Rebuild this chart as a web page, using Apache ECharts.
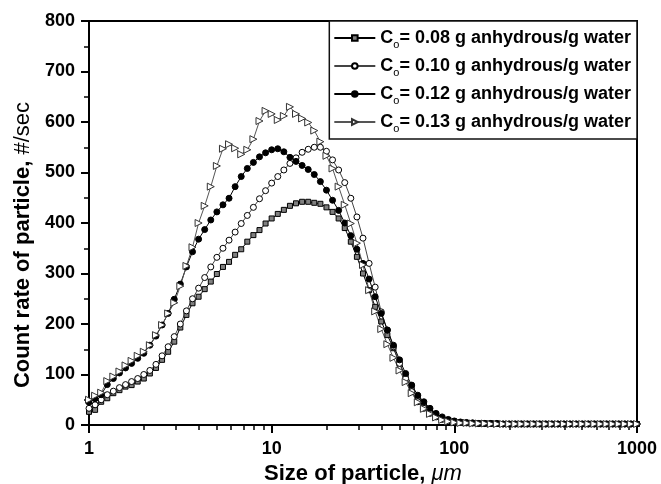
<!DOCTYPE html>
<html><head><meta charset="utf-8">
<script src="https://cdn.jsdelivr.net/npm/echarts@6/dist/echarts.min.js"></script>
<style>html,body{margin:0;padding:0;background:#fff}#c{width:661px;height:484px}</style>
</head><body><div id="c"></div>
<script>
// particle size channels (um)
const sizes = [1,1.080,1.166,1.259,1.359,1.468,1.585,1.711,1.848,1.995,
 2.154,2.326,2.512,2.712,2.929,3.162,3.415,3.687,3.981,4.299,
 4.642,5.012,5.412,5.843,6.310,6.813,7.356,7.943,8.577,9.261,
 10,10.80,11.66,12.59,13.59,14.68,15.85,17.11,18.48,19.95,
 21.54,23.26,25.12,27.12,29.29,31.62,34.15,36.87,39.81,42.99,
 46.42,50.12,54.12,58.43,63.10,68.13,73.56,79.43,85.77,92.61,
 100,108.0,116.6,125.9,135.9,146.8,158.5,171.1,184.8,199.5,
 215.4,232.6,251.2,271.2,292.9,316.2,341.5,368.7,398.1,429.9,
 464.2,501.2,541.2,584.3,631.0,681.3,735.6,794.3,857.7,926.1,1000];
const c008 = [26,30,46,53,63,69,76,79,86,92,
 102,113,129,145,165,193,218,241,254,269,
 284,299,313,323,337,348,363,376,386,399,
 409,418,426,434,439,442,442,440,438,431,
 422,409,390,363,333,300,267,234,205,178,
 152,122,96,73,53,38,26,20,14,10,
 7,5,4,4,3,3,3,2,2,2,2,2,2,2,2,2,2,2,2,2,2,2,2,2,2,2,2,2,2,2,2];
const c010 = [33,40,50,60,67,74,80,86,92,100,
 108,120,137,155,175,200,226,250,271,292,
 313,332,350,366,382,399,415,431,448,464,
 479,492,505,518,529,540,546,550,550,542,
 525,505,480,449,412,370,320,273,224,188,
 155,122,92,66,46,33,23,16,11,8,
 6,5,4,4,3,3,3,3,2,2,2,2,2,2,2,2,2,2,2,2,2,2,2,2,2,2,2,2,2,2,2];
const c012 = [45,52,60,80,92,103,113,122,132,142,
 158,176,198,221,249,279,313,343,368,387,
 406,422,436,449,472,492,508,520,531,539,
 545,547,541,530,522,514,506,496,482,465,
 445,425,400,375,348,320,289,254,221,188,
 158,129,102,79,59,46,33,23,16,11,
 8,6,5,4,3,3,3,3,2,2,2,2,2,2,2,2,2,2,2,2,2,2,2,2,2,2,2,2,2,2,2];
const c013 = [50,58,64,87,96,106,118,127,137,145,
 158,178,198,221,242,275,315,352,400,434,
 472,513,547,556,548,536,545,566,602,622,
 616,604,612,630,616,607,599,583,561,533,
 508,472,436,399,360,317,267,225,190,160,
 133,108,85,63,45,32,22,15,10,7,
 5,4,4,3,3,3,2,2,2,2,2,2,2,2,2,2,2,2,2,2,2,2,2,2,2,2,2,2,2,2,2];
const seriesNames = ['0.08','0.10','0.12','0.13'];
const xMajorTicks = [1,10,100,1000];
const xMinorTicks = [2,3,4,5,6,7,8,9,20,30,40,50,60,70,80,90,200,300,400,500,600,700,800,900];

const FONT = "'Liberation Sans', Arial, sans-serif";
const chart = echarts.init(document.getElementById('c'), null, {renderer:'canvas'});
const pairs = ys => sizes.map((x,i)=>[x, ys[i]]);
const txt = {fontFamily:FONT, color:'#000'};

const styles = [
  {symbol:'rect', symbolSize:5, item:{color:'#808080', borderColor:'#000', borderWidth:1}, line:'#000'},
  {symbol:'circle', symbolSize:6, item:{color:'#fff', borderColor:'#000', borderWidth:1}, line:'#444'},
  {symbol:'circle', symbolSize:6, item:{color:'#000', borderColor:'#000', borderWidth:1}, line:'#000'},
  {symbol:'triangle', symbolSize:7, rotate:-90, item:{color:'#fff', borderColor:'#333', borderWidth:1}, line:'#555'}
];
const data = [c008, c010, c012, c013];

const option = {
  animation:false,
  backgroundColor:'#fff',
  grid:{left:89,right:24,top:21,bottom:59,containLabel:false,outerBoundsMode:'none',
        show:true,borderColor:'#000',borderWidth:2,backgroundColor:'transparent'},
  xAxis:[{
    type:'log', logBase:10, min:1, max:1000, position:'bottom',
    axisLine:{show:true, onZero:false, lineStyle:{color:'#000', width:2}},
    axisTick:{show:true, length:8, customValues:xMajorTicks, lineStyle:{color:'#000', width:2}},
    axisLabel:{customValues:xMajorTicks, margin:15, fontSize:18, fontWeight:'bold', ...txt, formatter:v=>String(Math.round(v))},
    splitLine:{show:false},
    name:'{b|Size of particle, }{i|μm}', nameLocation:'middle', nameGap:33,
    nameTextStyle:{rich:{b:{fontSize:22, fontWeight:'bold', ...txt}, i:{fontSize:22, fontStyle:'italic', ...txt}}}
  },{
    type:'log', logBase:10, min:1, max:1000, position:'bottom', offset:0,
    axisLine:{show:false},
    axisTick:{show:true, length:5, customValues:xMinorTicks, lineStyle:{color:'#000', width:1.5}},
    axisLabel:{show:false}, splitLine:{show:false}
  }],
  yAxis:{
    type:'value', min:0, max:800, interval:100,
    axisLine:{show:true, onZero:false, lineStyle:{color:'#000', width:2}},
    axisTick:{show:true, length:8, lineStyle:{color:'#000', width:2}},
    minorTick:{show:true, splitNumber:2, length:5, lineStyle:{color:'#000', width:1.5}},
    axisLabel:{margin:14, fontSize:18, fontWeight:'bold', ...txt},
    splitLine:{show:false},
    name:'{b|Count rate of particle, }{n|#/sec}', nameLocation:'middle', nameGap:53,
    nameTextStyle:{padding:[0,44,0,0], rich:{b:{fontSize:22, fontWeight:'bold', ...txt}, n:{fontSize:22, ...txt}}}
  },
  legend:{
    orient:'vertical', right:24, top:21,
    backgroundColor:'#fff', borderColor:'#111', borderWidth:1.5,
    padding:[8,6,5,4], itemWidth:41, itemHeight:7, itemGap:7,
    data:seriesNames,
    formatter: n => '{c|C}{s|o}{t|= ' + n + ' g anhydrous/g water}',
    textStyle:{ rich:{
      c:{fontSize:18, fontWeight:'bold', ...txt, lineHeight:22},
      s:{fontSize:11, ...txt, padding:[13,0,0,0]},
      t:{fontSize:18, fontWeight:'bold', ...txt, lineHeight:22}
    }}
  },
  series: seriesNames.map((n,k)=>({
    name:n, type:'line', data:pairs(data[k]),
    symbol:styles[k].symbol, symbolSize:styles[k].symbolSize, symbolRotate:styles[k].rotate||0,
    showAllSymbol:true,
    itemStyle:styles[k].item,
    lineStyle:{color:styles[k].line, width:1},
    emphasis:{disabled:true}
  }))
};
chart.setOption(option);
</script></body></html>
